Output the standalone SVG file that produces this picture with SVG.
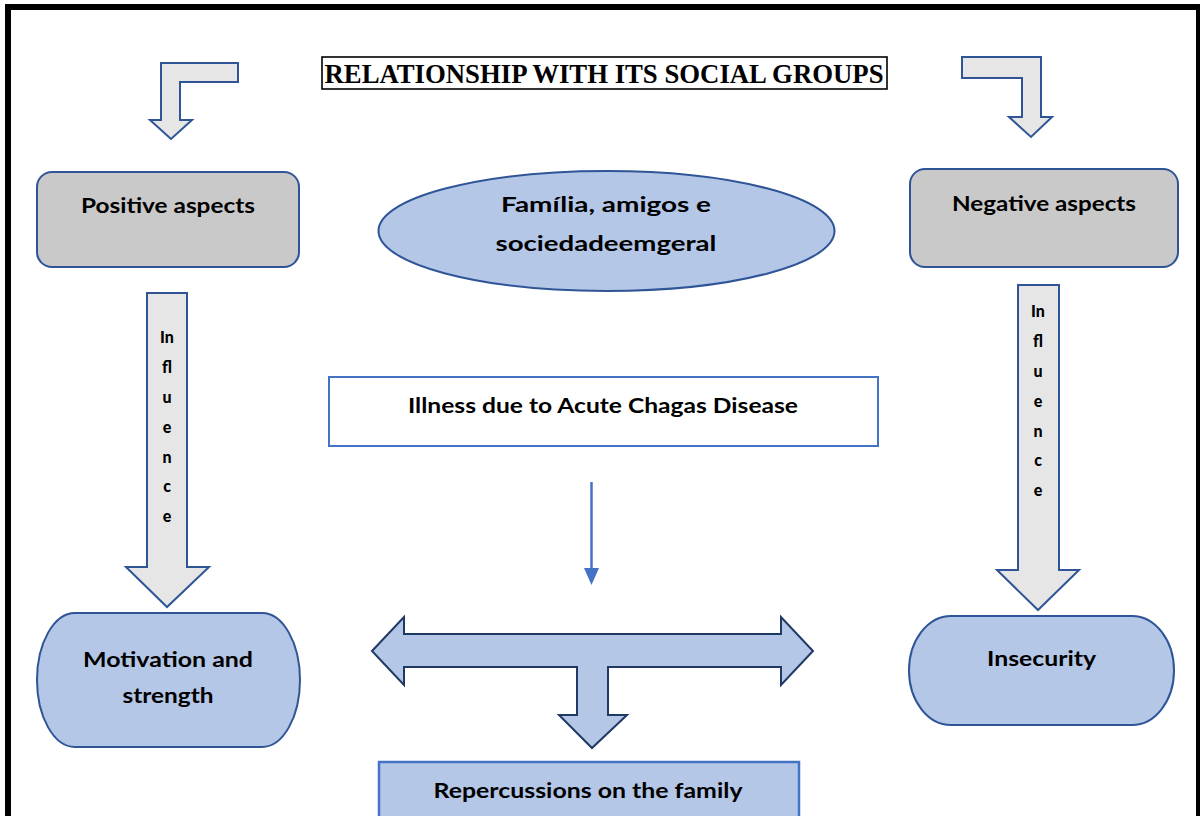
<svg xmlns="http://www.w3.org/2000/svg" width="1200" height="816" viewBox="0 0 1200 816">
<style>
.lbl{font-family:Lato,"Open Sans","Liberation Sans",sans-serif;font-weight:bold;font-size:21px;fill:#000;text-anchor:middle}
.inf{font-family:Lato,"Open Sans","Liberation Sans",sans-serif;font-weight:900;font-size:16px;fill:#000;text-anchor:middle}
.title{font-family:"Liberation Serif","Times New Roman",serif;font-weight:bold;font-size:27px;fill:#000;text-anchor:middle}
.gray{fill:#c9c9c9;stroke:#2f5597;stroke-width:2}
.blue{fill:#b4c7e7;stroke:#2f5597;stroke-width:2}
.garrow{fill:#e7e6e6;stroke:#2f5597;stroke-width:2;stroke-linejoin:miter}
</style>
<rect width="1200" height="816" fill="#fff"/>
<rect x="8" y="7" width="1191" height="900" fill="none" stroke="#000" stroke-width="6"/>

<g id="title">
<rect x="322" y="57" width="565" height="32" fill="#fff" stroke="#000" stroke-width="1.6"/>
<text class="title" x="604" y="83" textLength="559" lengthAdjust="spacingAndGlyphs">RELATIONSHIP WITH ITS SOCIAL GROUPS</text>
</g>

<g id="connectors">
<polygon class="garrow" points="161,63 238,63 238,82 180,82 180,120 192,120 171,139 150,120 161,120"/>
<polygon class="garrow" points="962,57 1041,57 1041,117 1052,117 1031,137 1009,117 1022,117 1022,78 962,78"/>
<g id="influence-left">
<polygon class="garrow" points="147,293 187,293 187,567 209,567 167,607 126,567 147,567"/>
<text class="inf" x="167" y="343">In</text>
<text class="inf" x="167" y="373">fl</text>
<text class="inf" x="167" y="403">u</text>
<text class="inf" x="167" y="433">e</text>
<text class="inf" x="167" y="463">n</text>
<text class="inf" x="167" y="492">c</text>
<text class="inf" x="167" y="522">e</text>
</g>
<g id="influence-right">
<polygon class="garrow" points="1018,285 1059,285 1059,570 1079,570 1038,610 997,570 1018,570"/>
<text class="inf" x="1038" y="317">In</text>
<text class="inf" x="1038" y="347">fl</text>
<text class="inf" x="1038" y="377">u</text>
<text class="inf" x="1038" y="407">e</text>
<text class="inf" x="1038" y="437">n</text>
<text class="inf" x="1038" y="466">c</text>
<text class="inf" x="1038" y="496">e</text>
</g>
<g id="small-arrow">
<line x1="591.5" y1="482" x2="591.5" y2="570" stroke="#4472c4" stroke-width="2.5"/>
<polygon points="584,568 599,568 591.5,585" fill="#4472c4"/>
</g>
<polygon points="372,651 404,617 404,634 781,634 781,617 813,651 781,685 781,667 608,667 608,715 627,715 592,748 559,715 577,715 577,667 404,667 404,685" fill="#b4c7e7" stroke="#203864" stroke-width="2"/>
</g>

<g id="positive">
<rect class="gray" x="37" y="172" width="262" height="95" rx="15"/>
<text class="lbl" x="168" y="213" textLength="174" lengthAdjust="spacingAndGlyphs">Positive aspects</text>
</g>
<g id="negative">
<rect class="gray" x="910" y="169" width="268" height="98" rx="15"/>
<text class="lbl" x="1044" y="211" textLength="184" lengthAdjust="spacingAndGlyphs">Negative aspects</text>
</g>
<g id="familia">
<ellipse class="blue" cx="606.5" cy="231" rx="228" ry="60"/>
<text class="lbl" x="606" y="212" textLength="210" lengthAdjust="spacingAndGlyphs">Família, amigos e</text>
<text class="lbl" x="606" y="251" textLength="221" lengthAdjust="spacingAndGlyphs">sociedadeemgeral</text>
</g>
<g id="illness">
<rect x="329" y="377" width="549" height="69" fill="#fff" stroke="#4472c4" stroke-width="2"/>
<text class="lbl" x="603" y="413" textLength="390" lengthAdjust="spacingAndGlyphs">Illness due to Acute Chagas Disease</text>
</g>
<g id="motivation">
<rect class="blue" x="37" y="613" width="263" height="134" rx="38" ry="67"/>
<text class="lbl" x="168" y="667" textLength="170" lengthAdjust="spacingAndGlyphs">Motivation and</text>
<text class="lbl" x="168" y="703" textLength="91" lengthAdjust="spacingAndGlyphs">strength</text>
</g>
<g id="insecurity">
<rect class="blue" x="909" y="616" width="265" height="109" rx="42" ry="54.5"/>
<text class="lbl" x="1041.5" y="666" textLength="109" lengthAdjust="spacingAndGlyphs">Insecurity</text>
</g>
<g id="repercussions">
<rect x="379" y="762" width="420" height="80" fill="#b4c7e7" stroke="#4472c4" stroke-width="2.5"/>
<text class="lbl" x="588" y="798" textLength="309" lengthAdjust="spacingAndGlyphs">Repercussions on the family</text>
</g>
</svg>
